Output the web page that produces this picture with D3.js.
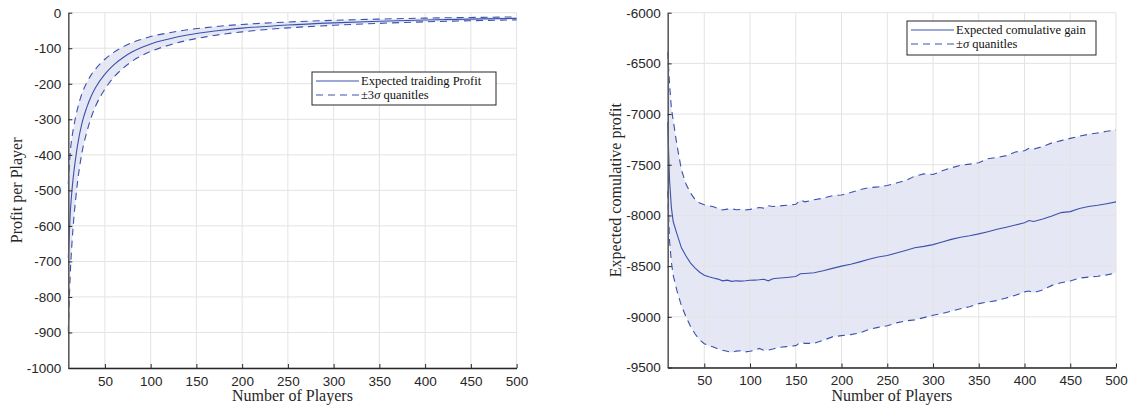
<!DOCTYPE html>
<html lang="en">
<head>
  <meta charset="utf-8" />
  <title>Profit per player and cumulative profit</title>
  <script src="https://d3js.org/d3.v7.min.js"></script>
  <style>
    body {
      margin: 0;
      background: #fff;
      font-family: "Liberation Serif", "DejaVu Serif", serif;
    }
    .grid line { stroke: #e3e3e3; stroke-width: 1; }
    .tick-label { font-size: 13.5px; fill: #262626; }
    .axis-title { font-size: 16px; fill: #262626; }
    .legend-text { font-size: 12.5px; fill: #111; }
  </style>
</head>
<body>
<svg id="chart" width="1129" height="407"></svg>

<script>
    // ---- left panel: profit per player ----
    var playersLeft = [10, 12, 14, 16, 18, 20, 25, 30, 35, 40, 50, 60, 70, 80, 90, 100,
                       120, 140, 160, 180, 200, 250, 300, 350, 400, 450, 500];
    var profitMean = [-690, -570, -500, -450, -410, -375, -310, -268, -235, -210, -173, -146,
                      -126, -110, -98, -88, -74, -63, -55, -48.5, -43.5, -34.5, -28.5, -24,
                      -20.5, -18, -16];
    var profitUpper = [-482, -396, -351, -320, -294, -271, -227, -198, -175, -158, -131, -111,
                       -96, -84, -75, -67, -56.6, -48, -42, -36.9, -33.1, -26.2, -21.5, -18,
                       -15.3, -13.4, -11.8];
    var profitLower = [-898, -744, -649, -580, -526, -479, -393, -338, -295, -262, -215, -181,
                       -156, -136, -121, -109, -91.4, -78, -68, -60.1, -53.9, -42.8, -35.5, -30,
                       -25.7, -22.6, -20.2];

    // ---- right panel: cumulative gain ----
    var playersRight = [10, 12, 14, 16, 20, 25, 30, 35, 40, 45, 50, 55, 60, 65, 70, 75, 80, 85,
                        90, 95, 100, 105, 110, 115, 120, 125, 130, 140, 150, 155, 160, 170, 180,
                        190, 200, 210, 220, 230, 240, 250, 260, 270, 280, 290, 300, 310, 320,
                        330, 340, 350, 360, 370, 380, 390, 400, 405, 410, 420, 430, 440, 450,
                        460, 470, 480, 490, 500];
    var gainMean = [-7080, -7650, -7920, -8060, -8180, -8320, -8400, -8470, -8520, -8560, -8590,
                    -8605, -8618, -8628, -8645, -8638, -8650, -8645, -8648, -8645, -8640, -8638,
                    -8635, -8630, -8645, -8625, -8620, -8612, -8603, -8575, -8572, -8566, -8545,
                    -8522, -8500, -8482, -8458, -8432, -8410, -8396, -8370, -8345, -8318, -8305,
                    -8288, -8262, -8236, -8215, -8200, -8182, -8160, -8136, -8116, -8094, -8072,
                    -8050, -8060, -8036, -8006, -7972, -7962, -7932, -7912, -7900, -7884, -7866];
    var gainUpper = [-6390, -6700, -6940, -7060, -7300, -7550, -7690, -7780, -7845, -7878, -7895,
                     -7905, -7915, -7930, -7946, -7938, -7935, -7944, -7940, -7946, -7940, -7932,
                     -7922, -7928, -7905, -7912, -7908, -7900, -7890, -7848, -7866, -7845, -7830,
                     -7805, -7798, -7774, -7746, -7726, -7718, -7704, -7680, -7656, -7612, -7590,
                     -7596, -7560, -7530, -7506, -7494, -7480, -7440, -7428, -7410, -7374, -7362,
                     -7338, -7346, -7320, -7284, -7262, -7240, -7218, -7200, -7186, -7170, -7156];
    var gainLower = [-7760, -8250, -8460, -8590, -8740, -8890, -9000, -9095, -9170, -9228, -9265,
                     -9285, -9298, -9318, -9330, -9340, -9352, -9338, -9334, -9346, -9340, -9330,
                     -9312, -9330, -9328, -9318, -9304, -9294, -9284, -9252, -9262, -9262, -9232,
                     -9198, -9186, -9176, -9160, -9124, -9104, -9088, -9060, -9040, -9030, -9008,
                     -8984, -8968, -8944, -8920, -8900, -8870, -8854, -8840, -8814, -8788, -8754,
                     -8746, -8762, -8734, -8690, -8664, -8646, -8618, -8608, -8600, -8586, -8566];

    var xTicks = [50, 100, 150, 200, 250, 300, 350, 400, 450, 500];
    var leftYTicks = [0, -100, -200, -300, -400, -500, -600, -700, -800, -900, -1000];
    var rightYTicks = [-6000, -6500, -7000, -7500, -8000, -8500, -9000, -9500];

    var lineColor = "#3a52ad";
    var dash = "7,5";
    var svg = d3.select("#chart");

    function zip(xs, ys) {
        return xs.map(function(x, i) { return [x, ys[i]]; });
    }

    function drawPanel(p) {
        var g = svg.append("g");
        var x = d3.scaleLinear().domain([10, 500]).range([p.left, p.right]);
        var y = d3.scaleLinear().domain(p.yDomain).range([p.bottom, p.top]);

        // band between the quantiles
        var band = p.n.map(function(n, i) { return { n: n, lo: p.lower[i], hi: p.upper[i] }; });
        var area = d3.area().curve(p.curve)
            .x(function(d) { return x(d.n); })
            .y0(function(d) { return y(d.lo); })
            .y1(function(d) { return y(d.hi); });
        g.append("path").datum(band).attr("d", area)
            .attr("fill", "rgb(30,40,160)").attr("fill-opacity", 0.11);

        // grid
        var grid = g.append("g").attr("class", "grid");
        grid.selectAll(".gx").data(xTicks).join("line")
            .attr("x1", function(d) { return x(d); }).attr("x2", function(d) { return x(d); })
            .attr("y1", p.top).attr("y2", p.bottom);
        grid.selectAll(".gy").data(p.yTicks).join("line")
            .attr("x1", p.left).attr("x2", p.right)
            .attr("y1", function(d) { return y(d); }).attr("y2", function(d) { return y(d); });

        var line = d3.line().curve(p.curve)
            .x(function(d) { return x(d[0]); })
            .y(function(d) { return y(d[1]); });
        [p.upper, p.lower].forEach(function(s) {
            g.append("path").datum(zip(p.n, s)).attr("d", line)
                .attr("fill", "none").attr("stroke", lineColor)
                .attr("stroke-width", 1.1).attr("stroke-dasharray", dash);
        });
        g.append("path").datum(zip(p.n, p.mean)).attr("d", line)
            .attr("fill", "none").attr("stroke", lineColor).attr("stroke-width", 1.1);

        // axes (MATLAB style: ticks inside)
        var xAxis = d3.axisBottom(x).tickValues(xTicks).tickSizeInner(-4).tickSizeOuter(0)
            .tickPadding(8);
        var yAxis = d3.axisLeft(y).tickValues(p.yTicks).tickSizeInner(-4).tickSizeOuter(0)
            .tickPadding(7).tickFormat(function(d) { return String(d); });
        var gx = g.append("g").attr("transform", "translate(0," + p.bottom + ")").call(xAxis);
        var gy = g.append("g").attr("transform", "translate(" + p.left + ",0)").call(yAxis);
        gx.select(".domain").attr("stroke", "#262626").attr("stroke-width", 1.3);
        gy.select(".domain").attr("stroke", "#5c5c5c").attr("stroke-width", 1.6);
        [gx, gy].forEach(function(a) {
            a.selectAll(".tick line").attr("stroke", "#262626");
            a.selectAll(".tick text").attr("class", "tick-label")
                .attr("font-family", null).attr("font-size", null);
        });

        // titles
        g.append("text").attr("class", "axis-title")
            .attr("x", (p.left + p.right) / 2).attr("y", 401)
            .attr("text-anchor", "middle").text("Number of Players");
        g.append("text").attr("class", "axis-title")
            .attr("transform", "translate(" + p.yTitleX + "," + ((p.top + p.bottom) / 2) + ") rotate(-90)")
            .attr("text-anchor", "middle").text(p.yTitle);

        // legend
        var L = p.legend;
        var lg = g.append("g").attr("transform", "translate(" + L.x + "," + L.y + ")");
        lg.append("rect").attr("width", L.w).attr("height", L.h)
            .attr("fill", "#fff").attr("stroke", "#262626").attr("stroke-width", 1);
        lg.append("line").attr("x1", 4).attr("x2", 47).attr("y1", 9).attr("y2", 9)
            .attr("stroke", lineColor).attr("stroke-width", 1.1);
        lg.append("line").attr("x1", 4).attr("x2", 47).attr("y1", 23).attr("y2", 23)
            .attr("stroke", lineColor).attr("stroke-width", 1.1).attr("stroke-dasharray", dash);
        lg.append("text").attr("class", "legend-text").attr("x", 49).attr("y", 13).text(L.first);
        var t2 = lg.append("text").attr("class", "legend-text").attr("x", 49).attr("y", 27);
        t2.append("tspan").text(L.sigma);
        t2.append("tspan").attr("font-style", "italic").text("σ");
        t2.append("tspan").text(" quanitles");
    }

    drawPanel({
        left: 68.3, right: 516.6, top: 12.7, bottom: 368,
        yDomain: [-1000, 0], yTicks: leftYTicks,
        n: playersLeft, mean: profitMean, upper: profitUpper, lower: profitLower,
        curve: d3.curveMonotoneX,
        yTitle: "Profit per Player", yTitleX: 22,
        legend: { x: 312, y: 72, w: 184, h: 33, first: "Expected traiding Profit", sigma: "±3" }
    });

    drawPanel({
        left: 667.7, right: 1116, top: 12.7, bottom: 367.5,
        yDomain: [-9500, -6000], yTicks: rightYTicks,
        n: playersRight, mean: gainMean, upper: gainUpper, lower: gainLower,
        curve: d3.curveLinear,
        yTitle: "Expected comulative profit", yTitleX: 621,
        legend: { x: 907, y: 21, w: 189, h: 34, first: "Expected comulative gain", sigma: "±" }
    });
</script>

</body>
</html>
